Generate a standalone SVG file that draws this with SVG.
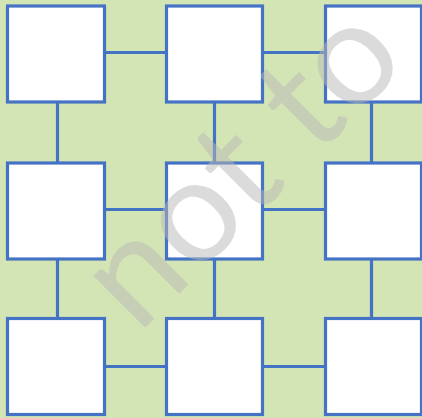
<svg xmlns="http://www.w3.org/2000/svg" width="422" height="418" viewBox="0 0 422 418">
<style>
.bg{fill:#D4E5B5}
.box{fill:#FFFFFF;stroke:#4472C4;stroke-width:3.2}
.c{stroke:#4472C4;stroke-width:3.2;fill:none}
.wm{font-family:Lato,"Open Sans",sans-serif;font-size:145px;fill:#B8B8B8;fill-opacity:0.5}
</style>
<rect class="bg" x="0" y="0" width="422" height="418"/>
<g id="connectors">
<line class="c" x1="104.5" y1="52.5" x2="166.5" y2="52.5"/>
<line class="c" x1="262.5" y1="52.5" x2="325.5" y2="52.5"/>
<line class="c" x1="104.5" y1="209.5" x2="166.5" y2="209.5"/>
<line class="c" x1="262.5" y1="209.5" x2="325.5" y2="209.5"/>
<line class="c" x1="104.5" y1="366.5" x2="166.5" y2="366.5"/>
<line class="c" x1="262.5" y1="366.5" x2="325.5" y2="366.5"/>
<line class="c" x1="57.5" y1="102" x2="57.5" y2="163"/>
<line class="c" x1="57.5" y1="259" x2="57.5" y2="318.5"/>
<line class="c" x1="214.5" y1="102" x2="214.5" y2="163"/>
<line class="c" x1="214.5" y1="259" x2="214.5" y2="318.5"/>
<line class="c" x1="371.5" y1="102" x2="371.5" y2="163"/>
<line class="c" x1="371.5" y1="259" x2="371.5" y2="318.5"/>
</g>
<g id="n11"><rect class="box" x="7.5" y="6" width="97" height="96"/></g>
<g id="n12"><rect class="box" x="166.5" y="6" width="96" height="96"/></g>
<g id="n13"><rect class="box" x="325.5" y="6" width="96" height="96"/></g>
<g id="n21"><rect class="box" x="7.5" y="163" width="97" height="96"/></g>
<g id="n22"><rect class="box" x="166.5" y="163" width="96" height="96"/></g>
<g id="n23"><rect class="box" x="325.5" y="163" width="96" height="96"/></g>
<g id="n31"><rect class="box" x="7.5" y="318.5" width="97" height="96"/></g>
<g id="n32"><rect class="box" x="166.5" y="318.5" width="96" height="96"/></g>
<g id="n33"><rect class="box" x="325.5" y="318.5" width="96" height="96"/></g>
<text class="wm" text-anchor="middle" transform="translate(274,199) rotate(-45)">not to</text>
</svg>
